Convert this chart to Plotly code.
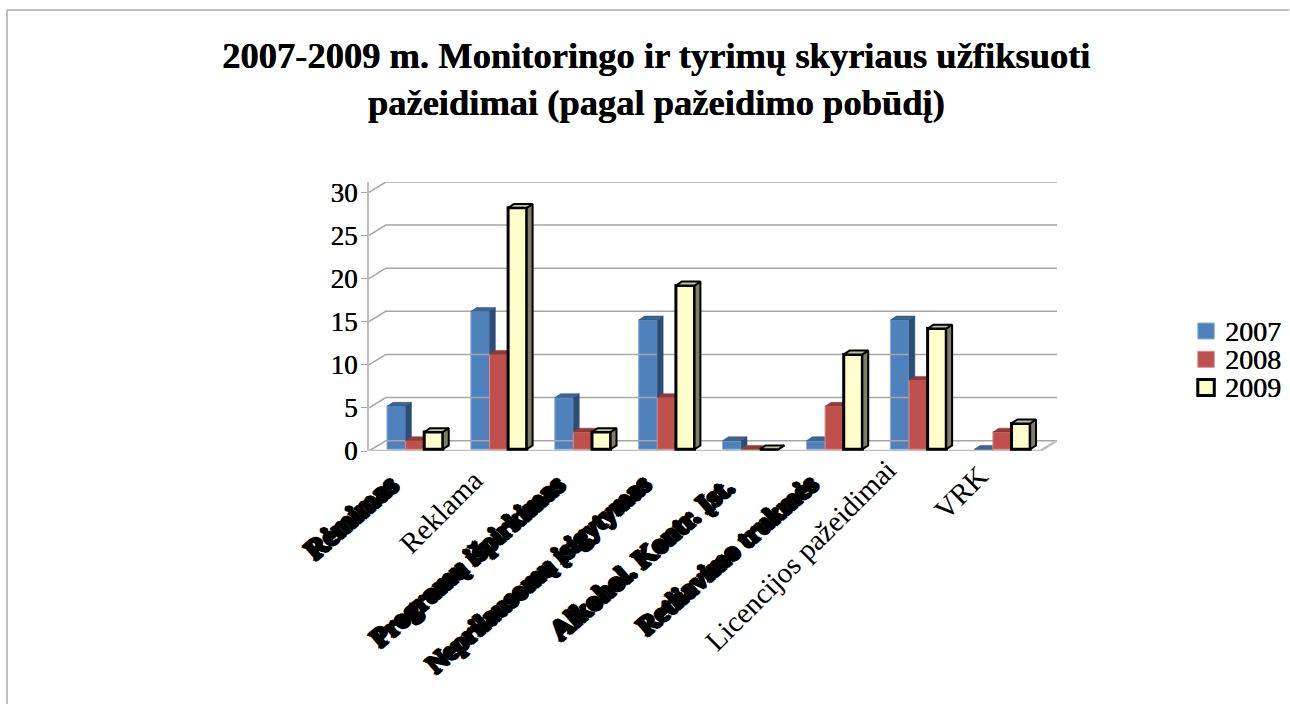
import plotly.graph_objects as go

categories = ["Rėmimas", "Reklama", "Programų išpirkimas", "Neprilausomų įsigytymas",
              "Alkohol. Kontr. Įst.", "Retliavimo trukmės", "Licencijos pažeidimai", "VRK"]
series_names = ["2007", "2008", "2009"]
values_2007 = [5, 16, 6, 15, 1, 1, 15, 0]
values_2008 = [1, 11, 2, 6, 0, 5, 8, 2]
values_2009 = [2, 28, 2, 19, 0, 11, 14, 3]
y_ticks = [0, 5, 10, 15, 20, 25, 30]
title_lines = ["2007-2009 m. Monitoringo ir tyrimų skyriaus užfiksuoti",
               "pažeidimai (pagal pažeidimo pobūdį)"]

FONT = "Liberation Serif"
GRID = "#a6a6a6"
BAR_W = 0.222
BAR0 = 0.214
LIFT = 0.2
DX, DY = 0.07, 0.45     # bar depth
WX, WY = 0.2, 1.2       # wall depth
XMAX = 8 + WX
YMAX = 30 + WY
HEAVY = ("1px 0 0 #000,-1px 0 0 #000,0 1px 0 #000,0 -1px 0 #000,"
         "1px 1px 0 #000,-1px -1px 0 #000,1px -1px 0 #000,-1px 1px 0 #000,"
         "2px 1px 0 #000,-2px -1px 0 #000,1px 2px 0 #000,-1px -2px 0 #000")
SOFT = "0.5px 0 0 #000"

styles = [
    dict(front="#4f81bd", side="#2c4d75", top="#3a6595", line="#8fb0d8", lw=1),
    dict(front="#c0504d", side="#8c3836", top="#8f3b39", line="#d58e8c", lw=1),
    dict(front="#ffffcc", side="#7f7f66", top="#c4c49c", line="#000000", lw=3),
]
all_values = [values_2007, values_2008, values_2009]

fig = go.Figure()

# walls and gridlines
for v in y_ticks:
    fig.add_trace(go.Scatter(x=[0, WX, XMAX], y=[v, v + WY, v + WY], mode="lines",
                             line=dict(color=GRID, width=1.5), hoverinfo="skip", showlegend=False))
fig.add_trace(go.Scatter(x=[0, 8, XMAX], y=[0, 0, WY], mode="lines",
                         line=dict(color="#bfbfbf", width=2.5), hoverinfo="skip", showlegend=False))
for k in range(9):
    fig.add_trace(go.Scatter(x=[k, k], y=[0, -0.6], mode="lines",
                             line=dict(color="#a6a6a6", width=1), hoverinfo="skip", showlegend=False,
                             cliponaxis=False))

for s, (name, vals, st) in enumerate(zip(series_names, all_values, styles)):
    suffix = "" if s == 0 else str(s + 1)
    off = BAR0 + s * BAR_W
    xs = [k for k in range(len(categories))]
    fig.add_trace(go.Bar(x=xs, y=vals, base=LIFT, width=BAR_W, offset=off, name=name,
                         marker=dict(color=st["front"], line=dict(color=st["line"], width=st["lw"])),
                         xaxis="x" + suffix, yaxis="y" + suffix, showlegend=False))
    for k, v in enumerate(vals):
        l, r = k + off, k + off + BAR_W
        t = v + LIFT
        edge = dict(color="#000000", width=2) if s == 2 else dict(color=st["side"], width=0.5)
        fig.add_trace(go.Scatter(x=[r, r + DX, r + DX, r, r], y=[LIFT, LIFT + DY, t + DY, t, LIFT],
                                 fill="toself", fillcolor=st["side"], mode="lines", line=edge,
                                 hoverinfo="skip", showlegend=False,
                                 xaxis="x" + suffix, yaxis="y" + suffix))
        fig.add_trace(go.Scatter(x=[l, l + DX, r + DX, r, l], y=[t, t + DY, t + DY, t, t],
                                 fill="toself", fillcolor=st["top"], mode="lines", line=edge,
                                 hoverinfo="skip", showlegend=False,
                                 xaxis="x" + suffix, yaxis="y" + suffix))

axis_common = dict(range=[0, XMAX], showgrid=False, zeroline=False, showticklabels=False, ticks="")
layout = dict(
    width=1290, height=704, autosize=False,
    margin=dict(l=368.5, r=232.5, t=182, b=253, pad=0),
    paper_bgcolor="white", plot_bgcolor="rgba(0,0,0,0)",
    font=dict(family=FONT, color="black"),
    showlegend=False,
    barmode="overlay",
    xaxis=dict(**axis_common, showline=False),
    yaxis=dict(range=[0, YMAX], tickvals=y_ticks, ticks="outside", ticklen=6, tickcolor="#a6a6a6",
               showgrid=False, zeroline=False, showline=True, linecolor="#bfbfbf", linewidth=2,
               tickfont=dict(family=FONT, size=27, color="black", shadow=SOFT), ticklabelstandoff=-2),
)
for i in (2, 3):
    layout[f"xaxis{i}"] = dict(**axis_common, overlaying="x", visible=False)
    layout[f"yaxis{i}"] = dict(range=[0, YMAX], overlaying="y", visible=False)

annotations = [
    dict(text="<b>" + "<br>".join(title_lines) + "</b>", xref="paper", yref="paper", x=0.4295, y=1.0,
         xanchor="center", yanchor="bottom", yshift=57, xshift=-8, showarrow=False, align="center",
         font=dict(family=FONT, size=36.5, color="black", shadow=SOFT)),
]
# category labels: some are rendered as heavy blobs in the reference
label_styles = [
    dict(heavy=True, x=0.44, y=15, size=28), dict(heavy=False, x=0.452, y=10, size=29),
    dict(heavy=True, x=0.43, y=15, size=27), dict(heavy=True, x=0.45, y=15, size=26.5),
    dict(heavy=True, x=0.45, y=17, size=28), dict(heavy=True, x=0.45, y=15, size=27),
    dict(heavy=False, x=0.39, y=0, size=29), dict(heavy=False, x=0.476, y=6, size=29),
]
for k, (cat, ls) in enumerate(zip(categories, label_styles)):
    f = dict(family=FONT, size=ls["size"], color="black")
    angle = -45
    if ls["heavy"]:
        f.update(shadow=HEAVY, weight="bold")
        angle = -41
    annotations.append(dict(text=cat, x=k + ls["x"], xref="x", y=0, yref="y", yshift=-ls["y"],
                            xanchor="right", yanchor="top", textangle=angle, showarrow=False, font=f))

# legend
legend_swatches = []
for s, (name, st) in enumerate(zip(series_names, styles)):
    py = 331 + s * 28.3
    annotations.append(dict(text=name, xref="paper", yref="paper",
                            x=(1224 - 368.5) / 689, y=(451 - py) / 269, xanchor="left", yanchor="middle",
                            showarrow=False, font=dict(family=FONT, size=28, color="black", shadow=SOFT)))
    legend_swatches.append(dict(type="rect", xref="paper", yref="paper",
                                x0=(1198.5 - 368.5) / 689, x1=(1215 - 368.5) / 689,
                                y0=(451 - py - 8) / 269, y1=(451 - py + 8) / 269,
                                fillcolor=st["front"],
                                line=dict(color="#000000" if s == 2 else st["line"], width=st["lw"] if s == 2 else 1)))

# outer chart frame
frame = [
    dict(type="line", xref="paper", yref="paper", x0=(6 - 368.5) / 689, x1=(1290 - 368.5) / 689,
         y0=(451 - 10) / 269, y1=(451 - 10) / 269, line=dict(color="#bfbfbf", width=2)),
    dict(type="line", xref="paper", yref="paper", x0=(6 - 368.5) / 689, x1=(6 - 368.5) / 689,
         y0=(451 - 10) / 269, y1=(451 - 704) / 269, line=dict(color="#bfbfbf", width=2)),
]
layout["annotations"] = annotations
layout["shapes"] = legend_swatches + frame
fig.update_layout(**layout)
fig.write_html("out.html", config={"displayModeBar": False},
               post_script="document.body.style.margin='0';")
